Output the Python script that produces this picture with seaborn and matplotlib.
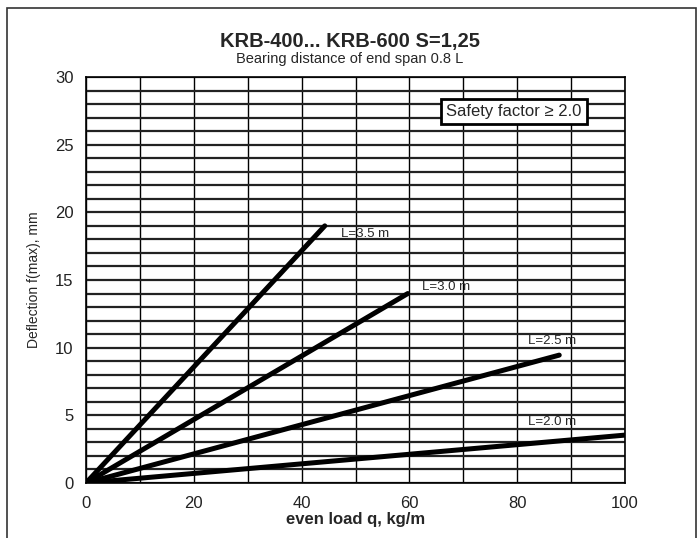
import matplotlib
matplotlib.use("Agg")
import matplotlib.pyplot as plt
import matplotlib.patches as mpatches
import seaborn as sns
import pandas as pd

# ---- data ----
spans = ["L=3.5 m", "L=3.0 m", "L=2.5 m", "L=2.0 m"]
load_start = [0, 0, 0, 0]
load_end = [44.3, 59.7, 87.8, 100.3]
defl_start = [0, 0, 0, 0]
defl_end = [19.0, 14.0, 9.45, 3.55]
label_x = [47.3, 62.3, 82.0, 82.0]
label_y = [18.4, 14.5, 10.5, 4.5]
x_ticks = [0, 20, 40, 60, 80, 100]
y_ticks = [0, 5, 10, 15, 20, 25, 30]

rows = []
for s, x0, x1, y0, y1 in zip(spans, load_start, load_end, defl_start, defl_end):
    rows.append({"span": s, "q": x0, "f": y0})
    rows.append({"span": s, "q": x1, "f": y1})
df = pd.DataFrame(rows)

sns.set_theme(style="white")
plt.rcParams["font.family"] = ["Liberation Sans", "DejaVu Sans"]

fig = plt.figure(figsize=(6.99, 5.38), dpi=100)
ax = fig.add_axes([86 / 699, 55 / 538, (625 - 86) / 699, (483 - 77) / 538])

sns.lineplot(data=df, x="q", y="f", hue="span", palette=["black"] * 4,
             linewidth=3.6, legend=False, ax=ax, solid_capstyle="round", zorder=5)

ax.set_xlim(0, 100)
ax.set_ylim(0, 30)
ax.set_xticks(x_ticks)
ax.set_yticks(y_ticks)
ax.grid(False)
for v in range(0, 101, 10):
    ax.axvline(v, color="black", linewidth=1.0, zorder=1)
for h in range(0, 31, 1):
    ax.axhline(h, color="#222222", linewidth=1.6, zorder=1)
for sp in ax.spines.values():
    sp.set_color("black")
    sp.set_linewidth(1.2)
ax.tick_params(axis="both", which="both", length=0, labelsize=12, pad=9,
               colors="#222222")

ax.set_xlabel("even load q, kg/m", fontsize=12, fontweight="bold", labelpad=1)
ax.set_ylabel("Deflection f(max), mm", fontsize=10, labelpad=10)

for s, lx, ly in zip(spans, label_x, label_y):
    ax.text(lx, ly, s, fontsize=9.5, ha="left", va="center", zorder=6)

ax.text(66.8, 27.45, "Safety factor \u2265 2.0", fontsize=12, ha="left", va="center",
        zorder=7, bbox=dict(boxstyle="square,pad=0.32", facecolor="white",
                            edgecolor="black", linewidth=2))

fig.text(0.5, 1 - 42 / 538, "KRB-400... KRB-600 S=1,25", ha="center", va="center",
         fontsize=14.5, fontweight="bold")
fig.text(0.5, 1 - 59 / 538, "Bearing distance of end span 0.8 L", ha="center",
         va="center", fontsize=10.5)

frame = mpatches.Rectangle((7 / 699, -0.05), (696 - 7) / 699, 1.05 - 8 / 538,
                           transform=fig.transFigure, fill=False,
                           edgecolor="#333333", linewidth=1.2, clip_on=False)
fig.patches.append(frame)

fig.savefig("out.png", dpi=100)
